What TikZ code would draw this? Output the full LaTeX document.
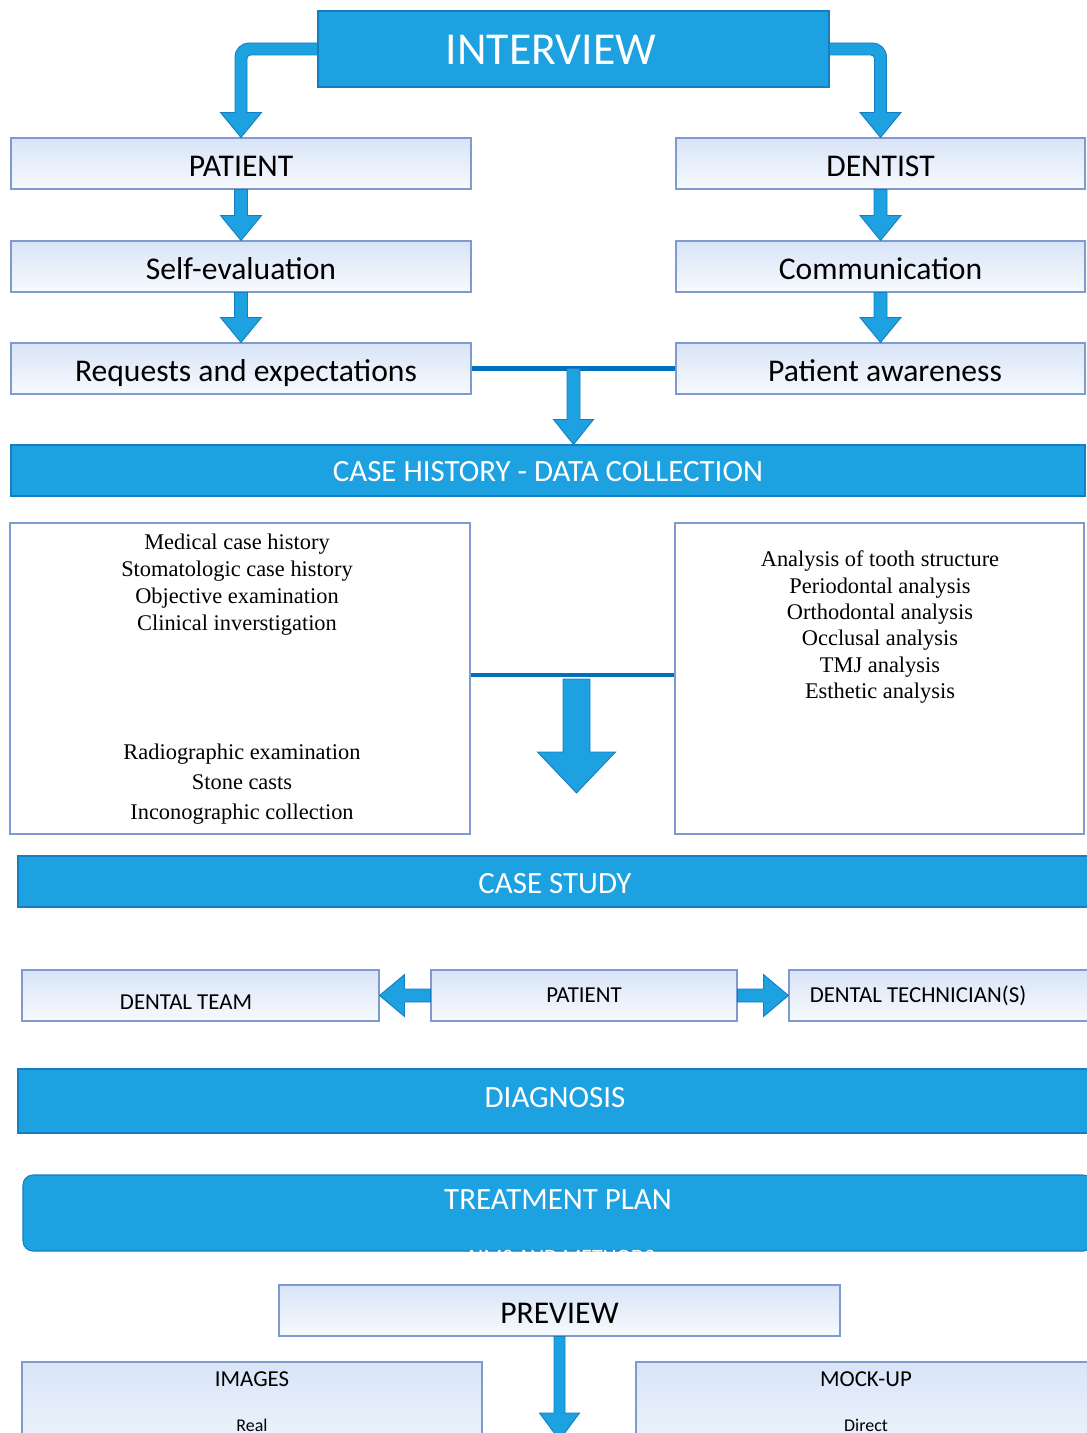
\documentclass[tikz,border=0pt]{standalone}
\usepackage{fontspec}
\setmainfont{Liberation Serif}
\newfontfamily\calib{Carlito}
\usetikzlibrary{calc}

\definecolor{boxblue}{RGB}{29,161,224}
\definecolor{boxedge}{RGB}{20,126,194}
\definecolor{lightedge}{RGB}{126,154,206}
\definecolor{gradtop}{RGB}{216,228,247}
\definecolor{gradbot}{RGB}{247,250,254}
\definecolor{joinblue}{RGB}{0,112,186}

\newcommand{\arrowdown}[5]{%
  \draw[blockarrow] let \p1=#1, \p2=#2 in
    (\x1-#3,\y1) -- (\x1+#3,\y1) -- (\x1+#3,\y2+#5) -- (\x1+#4,\y2+#5)
    -- (\x1,\y2) -- (\x1-#4,\y2+#5) -- (\x1-#3,\y2+#5) -- cycle;}
\newcommand{\arrowleft}[5]{%
  \draw[blockarrow] let \p1=#1, \p2=#2 in
    (\x1,\y1+#3) -- (\x2+#5,\y1+#3) -- (\x2+#5,\y1+#4) -- (\x2,\y1)
    -- (\x2+#5,\y1-#4) -- (\x2+#5,\y1-#3) -- (\x1,\y1-#3) -- cycle;}
\newcommand{\arrowright}[5]{%
  \draw[blockarrow] let \p1=#1, \p2=#2 in
    (\x1,\y1+#3) -- (\x2-#5,\y1+#3) -- (\x2-#5,\y1+#4) -- (\x2,\y1)
    -- (\x2-#5,\y1-#4) -- (\x2-#5,\y1-#3) -- (\x1,\y1-#3) -- cycle;}
\newcommand{\arrowelbow}[6]{%
  \draw[blockarrow] let \p1=#1, \p2=#2 in
    (\x1,\y1+#3) [rounded corners=8pt] -- ({\x2-#6*#3},{\y1+#3}) [sharp corners]
    -- ({\x2-#6*#3},{\y2+#5}) -- ({\x2-#6*#4},{\y2+#5}) -- (\x2,\y2)
    -- ({\x2+#6*#4},{\y2+#5}) -- ({\x2+#6*#3},{\y2+#5}) [rounded corners=2pt]
    -- ({\x2+#6*#3},{\y1-#3}) [sharp corners] -- (\x1,\y1-#3) -- cycle;}

\begin{document}
\begin{tikzpicture}[x=0.02cm, y=-0.02cm, line width=0.6pt,
    bar/.style={draw=boxedge, fill=boxblue, text=white, font=\calib\fontsize{17.6}{20}\selectfont},
    gradbox/.style={draw=lightedge, top color=gradtop, bottom color=gradbot, text height=14.4pt, text depth=0pt, font=\calib\fontsize{18}{21}\selectfont},
    smallbox/.style={draw=lightedge, top color=gradtop, bottom color=gradbot, font=\calib\fontsize{13}{15}\selectfont},
    listbox/.style={draw=lightedge, line width=0.9pt, fill=white},
    listtext/.style={align=center, anchor=north, inner sep=0pt, font=\fontsize{12.75}{15.3}\selectfont},
    blockarrow/.style={fill=boxblue, draw=boxedge, line width=0.5pt},
    joinline/.style={draw=joinblue, line width=2.3pt}]

    \def\pxu{0.02cm}
    \useasboundingbox (0,0) rectangle (1087,1433);
    \clip (0,0) rectangle (1087,1433);

    \node[bar, minimum width=511*\pxu, minimum height=76*\pxu] (interview) at (573.5,49) {};
    \node[text=white, font=\calib\fontsize{26}{30}\selectfont] (interviewtext) at (551,50) {INTERVIEW};

    \node[gradbox, minimum width=460*\pxu, minimum height=51*\pxu] (patient) at (241,163.5) {PATIENT};
    \node[gradbox, minimum width=460*\pxu, minimum height=51*\pxu] (selfeval) at (241,266.5) {Self-evaluation};
    \node[gradbox, minimum width=460*\pxu, minimum height=51*\pxu] (requests) at (241,368.5) {\hspace*{0.2cm}Requests and expectations};

    \node[gradbox, minimum width=409*\pxu, minimum height=51*\pxu] (dentist) at (880.5,163.5) {DENTIST};
    \node[gradbox, minimum width=409*\pxu, minimum height=51*\pxu] (communic) at (880.5,266.5) {Communication};
    \node[gradbox, minimum width=409*\pxu, minimum height=51*\pxu] (awareness) at (880.5,368.5) {\hspace*{0.18cm}Patient awareness};

    \arrowelbow{(interview.west)}{(patient.north)}{6*\pxu}{20.5*\pxu}{25*\pxu}{1}
    \arrowelbow{(interview.east)}{(dentist.north)}{6*\pxu}{20.5*\pxu}{25*\pxu}{-1}
    \arrowdown{(patient.south)}{(selfeval.north)}{6.5*\pxu}{20.5*\pxu}{25*\pxu}
    \arrowdown{(selfeval.south)}{(requests.north)}{6.5*\pxu}{20.5*\pxu}{25*\pxu}
    \arrowdown{(dentist.south)}{(communic.north)}{6.5*\pxu}{20.5*\pxu}{25*\pxu}
    \arrowdown{(communic.south)}{(awareness.north)}{6.5*\pxu}{20.5*\pxu}{25*\pxu}

    \node[bar, minimum width=1074*\pxu, minimum height=51*\pxu, text height=13pt, text depth=0pt] (casehist) at (548,470.5) {CASE HISTORY - DATA COLLECTION};

    \draw[joinline] (requests.east) -- (awareness.west);
    \coordinate (joinmid) at ($(requests.east)!0.5!(awareness.west)$);
    \arrowdown{(joinmid)}{(casehist.north)}{6.5*\pxu}{20*\pxu}{25*\pxu}

    \node[listbox, minimum width=460*\pxu, minimum height=311*\pxu] (medbox) at (240,678.5) {};
    \node[listbox, minimum width=409*\pxu, minimum height=311*\pxu] (anabox) at (879.5,678.5) {};

    \node[listtext] (medlist) at (237,533.5) {Medical case history\\Stomatologic case history\\Objective examination\\Clinical inverstigation};
    \node[listtext, font=\fontsize{12.75}{17}\selectfont] (radlist) at (242,743.5) {Radiographic examination\\Stone casts\\Inconographic collection};
    \node[listtext, font=\fontsize{12.75}{15}\selectfont] (analist) at (880,550.5) {Analysis of tooth structure\\Periodontal analysis\\Orthodontal analysis\\Occlusal analysis\\TMJ analysis\\Esthetic analysis};

    \draw[joinline] ($(medbox.east)+(0,-3.5)$) -- ($(anabox.west)+(0,-3.5)$);
    \coordinate (bigtail) at (576.5,679);
    \coordinate (bigtip) at (576.5,793);
    \arrowdown{(bigtail)}{(bigtip)}{13.5*\pxu}{39*\pxu}{41*\pxu}

    \node[bar, minimum width=1074*\pxu, minimum height=51*\pxu, text height=14.2pt, text depth=0pt] (casestudy) at (555,881.5) {CASE STUDY};

    \node[smallbox, minimum width=357*\pxu, minimum height=51*\pxu] (team) at (200.5,995.5) {};
    \node[font=\calib\fontsize{13}{15}\selectfont] (teamtext) at (186,1002) {DENTAL TEAM};
    \node[smallbox, minimum width=306*\pxu, minimum height=51*\pxu] (patient2) at (584,995.5) {PATIENT};
    \node[smallbox, minimum width=306*\pxu, minimum height=51*\pxu] (techbox) at (942,995.5) {};
    \node[font=\calib\fontsize{13}{15}\selectfont] (techtext) at (918,996) {DENTAL TECHNICIAN(S)};

    \arrowleft{(patient2.west)}{(team.east)}{6.5*\pxu}{21*\pxu}{25*\pxu}
    \arrowright{(patient2.east)}{(techbox.west)}{6.5*\pxu}{21*\pxu}{25*\pxu}

    \node[bar, minimum width=1074*\pxu, minimum height=64*\pxu, text height=7pt, text depth=0pt] (diagnosis) at (555,1101) {DIAGNOSIS};

    \node[bar, rounded corners=10*\pxu, minimum width=1070*\pxu, minimum height=76*\pxu] (treatbox) at (558,1213) {};
    \node[text=white, font=\calib\fontsize{17.6}{20}\selectfont] (treattext) at (558,1200) {TREATMENT PLAN};
    \node[text=white, font=\calib\fontsize{12.5}{15}\selectfont] (aimstext) at (560,1257) {AIMS AND METHODS};

    \node[gradbox, minimum width=561*\pxu, minimum height=51*\pxu] (preview) at (559.5,1310.5) {PREVIEW};

    \node[smallbox, minimum width=460*\pxu, minimum height=118*\pxu] (images) at (252,1421) {};
    \node[font=\calib\fontsize{13}{15}\selectfont] (imgtitle) at (252,1379) {IMAGES};
    \node[font=\calib\fontsize{10.2}{12}\selectfont] (imgreal) at (252,1425) {Real};

    \node[smallbox, minimum width=460*\pxu, minimum height=118*\pxu] (mockup) at (866,1421) {};
    \node[font=\calib\fontsize{13}{15}\selectfont] (mocktitle) at (866,1379) {MOCK-UP};
    \node[font=\calib\fontsize{10.2}{12}\selectfont] (mockdirect) at (866,1425) {Direct};

    \coordinate (prevtip) at (560,1440);
    \arrowdown{(preview.south)}{(prevtip)}{5.5*\pxu}{20*\pxu}{27*\pxu}

\end{tikzpicture}
\end{document}
